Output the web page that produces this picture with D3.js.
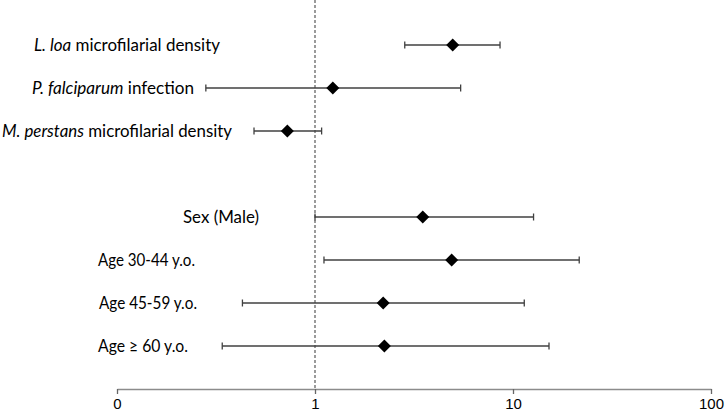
<!DOCTYPE html>
<html>
<head>
<meta charset="utf-8">
<script src="https://cdn.jsdelivr.net/npm/d3@7"></script>
<style>
  html, body { margin: 0; padding: 0; background: #fff; }
  svg { display: block; }
</style>
</head>
<body>
<svg id="chart" width="725" height="415"></svg>
<script>
// ---- data ----
const categories = [
  "L. loa microfilarial density",
  "P. falciparum infection",
  "M. perstans microfilarial density",
  "",
  "Sex (Male)",
  "Age 30-44 y.o.",
  "Age 45-59 y.o.",
  "Age \u2265 60 y.o."
];
const italicPart = ["L. loa", "P. falciparum", "M. perstans", "", "", "", "", ""];
const estimate = [4.96, 1.23, 0.725, null, 3.50, 4.90, 2.21, 2.24];
const ciLow    = [2.84, 0.281, 0.492, null, 1.00, 1.11, 0.43, 0.34];
const ciHigh   = [8.6, 5.44, 1.08, null, 12.7, 21.6, 11.4, 15.2];
const tickValues = [0.1, 1, 10, 100];
const tickLabels = ["0", "1", "10", "100"];

// ---- layout ----
const labelStart = [34, 32, 2, 0, 183, 98, 99, 98];
const labelWidth = [186, 162, 230, 0, 76, 97, 98, 90];

const svg = d3.select("#chart");
const x = d3.scaleLog().domain([0.1, 100]).range([117, 711]);
const y = d3.scalePoint().domain(d3.range(categories.length)).range([45, 346]);
const axisY = 389;

// reference line at 1
svg.append("line")
  .attr("x1", x(1)).attr("x2", x(1))
  .attr("y1", 0).attr("y2", axisY)
  .attr("stroke", "#666").attr("stroke-width", 1.3)
  .attr("stroke-dasharray", "3,2");

// axis
const axis = d3.axisBottom(x)
  .tickValues(tickValues)
  .tickFormat((d, i) => tickLabels[i])
  .tickSize(5)
  .tickSizeOuter(0)
  .tickPadding(4);
const gAxis = svg.append("g").attr("transform", `translate(0,${axisY})`).call(axis);
gAxis.select(".domain").attr("stroke", "#8c8c8c").attr("stroke-width", 1.3);
gAxis.selectAll(".tick line").attr("stroke", "#666").attr("stroke-width", 1.3);
gAxis.selectAll(".tick text")
  .attr("font-family", "Liberation Sans, Arial, sans-serif")
  .attr("font-size", 15).attr("fill", "#000");

const rows = d3.range(categories.length).filter(i => estimate[i] !== null);

// CI lines
const g = svg.append("g");
g.selectAll("line.ci").data(rows).join("line")
  .attr("class", "ci")
  .attr("x1", i => x(ciLow[i])).attr("x2", i => x(ciHigh[i]))
  .attr("y1", i => y(i)).attr("y2", i => y(i))
  .attr("stroke", "#404040").attr("stroke-width", 1.3);
// caps
g.selectAll("line.capL").data(rows).join("line")
  .attr("x1", i => x(ciLow[i])).attr("x2", i => x(ciLow[i]))
  .attr("y1", i => y(i) - 3.5).attr("y2", i => y(i) + 3.5)
  .attr("stroke", "#404040").attr("stroke-width", 1.3);
g.selectAll("line.capR").data(rows).join("line")
  .attr("x1", i => x(ciHigh[i])).attr("x2", i => x(ciHigh[i]))
  .attr("y1", i => y(i) - 3.5).attr("y2", i => y(i) + 3.5)
  .attr("stroke", "#404040").attr("stroke-width", 1.3);
// diamonds
g.selectAll("path.pt").data(rows).join("path")
  .attr("transform", i => `translate(${x(estimate[i])},${y(i)})`)
  .attr("d", "M0,-6.5L6.5,0L0,6.5L-6.5,0Z")
  .attr("fill", "#000");

// labels
const labels = svg.append("g")
  .attr("font-family", "Lato, 'Open Sans', sans-serif")
  .attr("font-size", 16.5).attr("fill", "#000");
rows.forEach(i => {
  const t = labels.append("text")
    .attr("x", labelStart[i]).attr("y", y(i))
    .attr("dominant-baseline", "central")
    .attr("textLength", labelWidth[i])
    .attr("lengthAdjust", "spacingAndGlyphs");
  const it = italicPart[i];
  if (it) {
    t.append("tspan").attr("font-style", "italic").text(it);
    t.append("tspan").text(categories[i].slice(it.length));
  } else {
    t.text(categories[i]);
  }
});
</script>
</body>
</html>
